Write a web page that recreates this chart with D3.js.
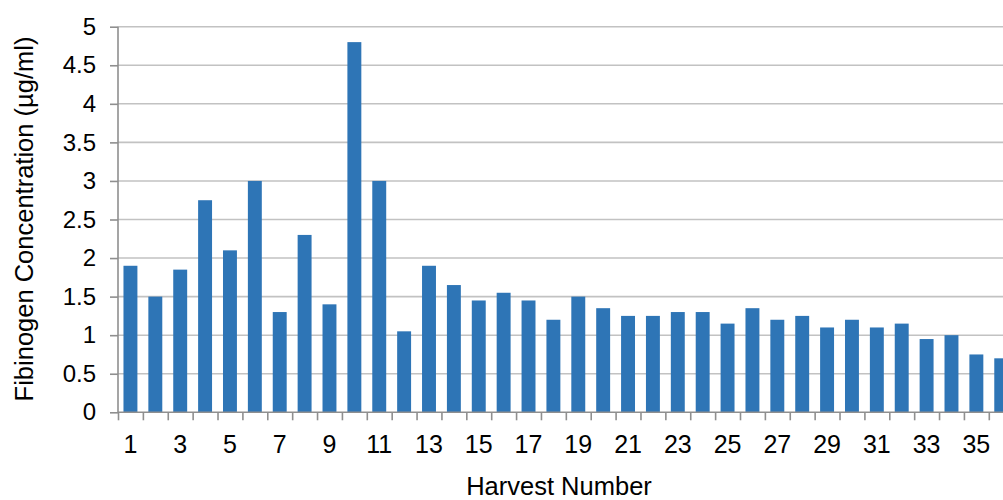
<!DOCTYPE html>
<html>
<head>
<meta charset="utf-8">
<script src="https://cdn.jsdelivr.net/npm/d3@7/dist/d3.min.js"></script>
<style>
  html, body { margin: 0; padding: 0; background: #fff; }
  svg { display: block; font-family: "Liberation Sans", Arial, sans-serif; }
</style>
</head>
<body>
<svg id="chart" width="1003" height="500"></svg>
<script>
// Fibrinogen concentration per harvest
const harvests = d3.range(1, 37);
const concentration = [
  1.9, 1.5, 1.85, 2.75, 2.1, 3.0, 1.3, 2.3, 1.4, 4.8,
  3.0, 1.05, 1.9, 1.65, 1.45, 1.55, 1.45, 1.2, 1.5, 1.35,
  1.25, 1.25, 1.3, 1.3, 1.15, 1.35, 1.2, 1.25, 1.1, 1.2,
  1.1, 1.15, 0.95, 1.0, 0.75, 0.7
];
const yTicks = [0, 0.5, 1, 1.5, 2, 2.5, 3, 3.5, 4, 4.5, 5];
const yTitle = "Fibinogen Concentration (µg/ml)";
const xTitle = "Harvest Number";

const svg = d3.select("#chart");
const plotLeft = 118, plotTop = 26.7, plotBottom = 412.3, step = 24.88;
const plotRight = plotLeft + step * harvests.length;

const x = d3.scaleBand().domain(harvests).range([plotLeft, plotRight])
  .paddingInner(0.44).paddingOuter(0.22);
const xEdge = d3.scaleLinear().domain([0, harvests.length]).range([plotLeft, plotRight]);
const y = d3.scaleLinear().domain([0, 5]).range([plotBottom, plotTop]);

// horizontal gridlines
svg.append("g")
  .selectAll("line")
  .data(yTicks.filter(d => d > 0))
  .join("line")
  .attr("x1", plotLeft).attr("x2", 1003)
  .attr("y1", d => y(d)).attr("y2", d => y(d))
  .attr("stroke", "#c2c2c2").attr("stroke-width", 1.6);

// bars
svg.append("g")
  .selectAll("rect")
  .data(concentration)
  .join("rect")
  .attr("x", (d, i) => x(harvests[i]))
  .attr("width", x.bandwidth())
  .attr("y", d => y(d))
  .attr("height", d => y(0) - y(d))
  .attr("fill", "#2e75b6");

const axisColor = "#8f8f8f";

// y axis
const yAxis = svg.append("g")
  .attr("transform", `translate(${plotLeft},0)`)
  .call(d3.axisLeft(y).tickValues(yTicks).tickSize(8).tickPadding(14)
    .tickFormat(d => String(d)));
yAxis.select(".domain").attr("stroke", axisColor).attr("stroke-width", 1.6)
  .attr("d", `M0,${plotTop}V${plotBottom}`);
yAxis.selectAll(".tick line").attr("stroke", axisColor).attr("stroke-width", 1.6);
yAxis.selectAll("text").attr("font-size", 24).attr("fill", "#000")
  .attr("font-family", "Liberation Sans, Arial, sans-serif");

// x axis: boundary ticks
const xAxisTicks = svg.append("g")
  .attr("transform", `translate(0,${plotBottom})`)
  .call(d3.axisBottom(xEdge).tickValues(d3.range(0, harvests.length + 1))
    .tickSize(8).tickFormat(""));
xAxisTicks.select(".domain").attr("stroke", axisColor).attr("stroke-width", 1.6)
  .attr("d", `M${plotLeft},0H1003`);
xAxisTicks.selectAll(".tick line").attr("stroke", axisColor).attr("stroke-width", 1.6);

// x axis: category labels (odd harvests)
const xAxisLabels = svg.append("g")
  .attr("transform", `translate(0,${plotBottom})`)
  .call(d3.axisBottom(x).tickSize(0).tickPadding(23)
    .tickFormat(d => (d % 2 === 1 ? String(d) : "")));
xAxisLabels.select(".domain").remove();
xAxisLabels.selectAll("text").attr("font-size", 25).attr("fill", "#000")
  .attr("font-family", "Liberation Sans, Arial, sans-serif");

// axis titles
svg.append("text")
  .attr("x", 559).attr("y", 495)
  .attr("text-anchor", "middle")
  .attr("font-size", 25.5)
  .attr("fill", "#000")
  .text(xTitle);

svg.append("text")
  .attr("transform", "translate(32.5,219) rotate(-90)")
  .attr("text-anchor", "middle")
  .attr("font-size", 25.5)
  .attr("fill", "#000")
  .text(yTitle);
</script>
</body>
</html>
